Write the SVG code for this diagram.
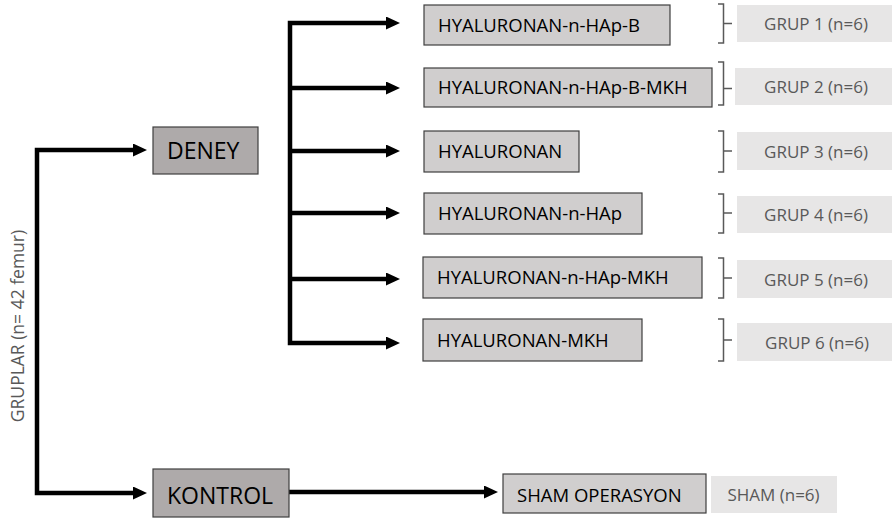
<svg xmlns="http://www.w3.org/2000/svg" width="892" height="523" viewBox="0 0 892 523">
<style>
  text { font-family: "Open Sans", "Noto Sans", "DejaVu Sans", sans-serif; }
  .main { fill: #aeaaaa; stroke: #3f3f3f; stroke-width: 1.2; }
  .sub { fill: #d0cece; stroke: #3f3f3f; stroke-width: 1.2; }
  .lab { fill: #e7e6e6; stroke: none; }
  .tmain { font-size: 23px; fill: #000; }
  .tsub { font-size: 18.5px; fill: #000; font-weight: 500; }
  .tlab { font-size: 17px; fill: #595959; text-anchor: middle; }
  .conn { fill: none; stroke: #000; stroke-width: 4.5; stroke-linejoin: miter; }
  .br { fill: none; stroke: #595959; stroke-width: 1.5; }
</style>
<defs>
  <marker id="ah" markerUnits="userSpaceOnUse" markerWidth="16" markerHeight="14" refX="1" refY="6.5" orient="auto-start-reverse" viewBox="0 0 16 14">
    <path d="M0,0 L14,6.5 L0,13 Z" fill="#000"/>
  </marker>
</defs>

<g id="connectors">
  <path class="conn" d="M134 150 H37 V493 H134" marker-start="url(#ah)" marker-end="url(#ah)"/>
  <path class="conn" d="M387 23 H290 V343 H387" marker-start="url(#ah)" marker-end="url(#ah)"/>
  <path class="conn" d="M290 88 H387" marker-end="url(#ah)"/>
  <path class="conn" d="M290 151 H387" marker-end="url(#ah)"/>
  <path class="conn" d="M290 213 H387" marker-end="url(#ah)"/>
  <path class="conn" d="M290 279 H387" marker-end="url(#ah)"/>
  <path class="conn" d="M289 492 H485" marker-end="url(#ah)"/>
</g>

<g id="label-gruplar">
  <text transform="translate(24 326) rotate(-90)" text-anchor="middle" font-size="17.5" fill="#595959">GRUPLAR (n= 42 femur)</text>
</g>

<g id="node-deney">
  <rect class="main" x="153" y="127" width="105" height="47"/>
  <text class="tmain" x="167" y="159">DENEY</text>
</g>
<g id="node-kontrol">
  <rect class="main" x="153" y="469" width="136" height="48"/>
  <text class="tmain" x="167" y="504">KONTROL</text>
</g>

<g id="node-r1">
  <rect class="sub" x="424" y="5" width="246" height="40"/>
  <text class="tsub" x="438" y="31.5">HYALURONAN-n-HAp-B</text>
</g>
<g id="node-r2">
  <rect class="sub" x="424" y="68" width="288" height="39"/>
  <text class="tsub" x="438" y="94">HYALURONAN-n-HAp-B-MKH</text>
</g>
<g id="node-r3">
  <rect class="sub" x="424" y="131" width="155" height="41"/>
  <text class="tsub" x="438" y="158">HYALURONAN</text>
</g>
<g id="node-r4">
  <rect class="sub" x="424" y="193" width="218" height="41"/>
  <text class="tsub" x="438" y="220">HYALURONAN-n-HAp</text>
</g>
<g id="node-r5">
  <rect class="sub" x="423" y="257" width="279" height="41"/>
  <text class="tsub" x="437" y="284">HYALURONAN-n-HAp-MKH</text>
</g>
<g id="node-r6">
  <rect class="sub" x="423" y="319" width="219" height="42"/>
  <text class="tsub" x="437" y="346.5">HYALURONAN-MKH</text>
</g>
<g id="node-sham">
  <rect class="sub" x="503" y="474" width="203" height="39"/>
  <text class="tsub" x="517" y="502">SHAM OPERASYON</text>
</g>

<g id="brackets">
  <path class="br" d="M718 4 H723.5 V43 H718 M723.5 23.5 H732"/>
  <path class="br" d="M718 62 H723.5 V105 H718 M723.5 88.5 H732"/>
  <path class="br" d="M718 131 H723.5 V172 H718 M723.5 151 H732"/>
  <path class="br" d="M718 194 H723.5 V233 H718 M723.5 213 H732"/>
  <path class="br" d="M718 258 H723.5 V298 H718 M723.5 278 H732"/>
  <path class="br" d="M718 319 H723.5 V361 H718 M723.5 340 H732"/>
</g>

<g id="label-g1">
  <rect class="lab" x="737" y="5" width="155" height="37"/>
  <text class="tlab" x="816" y="29.5">GRUP 1 (n=6)</text>
</g>
<g id="label-g2">
  <rect class="lab" x="735" y="68" width="157" height="37"/>
  <text class="tlab" x="816" y="93">GRUP 2 (n=6)</text>
</g>
<g id="label-g3">
  <rect class="lab" x="737" y="132" width="155" height="38"/>
  <text class="tlab" x="816" y="157.5">GRUP 3 (n=6)</text>
</g>
<g id="label-g4">
  <rect class="lab" x="737" y="196" width="155" height="37"/>
  <text class="tlab" x="816" y="221">GRUP 4 (n=6)</text>
</g>
<g id="label-g5">
  <rect class="lab" x="737" y="260" width="155" height="38"/>
  <text class="tlab" x="816" y="285.5">GRUP 5 (n=6)</text>
</g>
<g id="label-g6">
  <rect class="lab" x="737" y="323" width="155" height="38"/>
  <text class="tlab" x="817" y="348.5">GRUP 6 (n=6)</text>
</g>
<g id="label-sham">
  <rect class="lab" x="711" y="476" width="126" height="37"/>
  <text class="tlab" x="773.5" y="501">SHAM (n=6)</text>
</g>
</svg>
